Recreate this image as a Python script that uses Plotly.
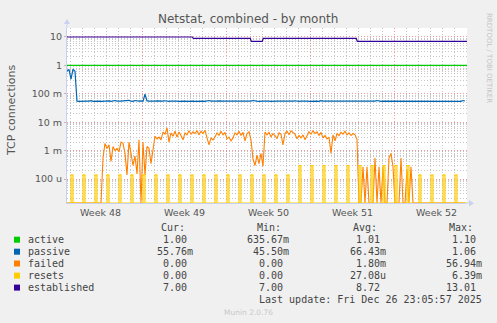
import plotly.graph_objects as go
import pandas as pd

# ---------------- data ----------------
T_START = pd.Timestamp("2025-11-23 17:24")
T_END = pd.Timestamp("2025-12-27 01:24")

week_starts = ["2025-11-30", "2025-12-07", "2025-12-14", "2025-12-21"]
week_label_pos = ["2025-11-26 12:00", "2025-12-03 12:00", "2025-12-10 12:00",
                  "2025-12-17 12:00", "2025-12-24 12:00"]
week_labels = ["Week 48", "Week 49", "Week 50", "Week 51", "Week 52"]

y_tick_vals = [1e-4, 1e-3, 1e-2, 1e-1, 1, 10]
y_tick_text = ["100 u", "1 m", "10 m", "100 m", "1", "10"]

# active: flat
active_times = ["2025-11-23 17:24", "2025-12-27 01:24"]
active_values = [1.0, 1.0]

# established: step series
established_times = ["2025-11-23 17:24", "2025-12-04 04:00", "2025-12-04 06:00",
                     "2025-12-09 00:00", "2025-12-09 02:00", "2025-12-10 00:00",
                     "2025-12-10 02:00", "2025-12-17 20:00", "2025-12-17 22:00",
                     "2025-12-27 01:24"]
established_values = [10, 10, 9, 9, 7, 7, 9, 9, 7, 7]

# passive: 4-hour samples
passive_values = [
    0.62, 0.72, 0.33, 0.74, 0.62, 0.055, 0.054, 0.055, 0.056, 0.054, 0.055, 0.055, 0.057, 0.054, 0.055, 0.056, 0.055, 0.054, 0.055, 0.055,
    0.055, 0.056, 0.054, 0.055, 0.058, 0.055, 0.054, 0.055, 0.056, 0.057, 0.055, 0.059, 0.055, 0.054, 0.058, 0.055, 0.055, 0.056, 0.054, 0.097,
    0.056, 0.055, 0.054, 0.055, 0.055, 0.056, 0.055, 0.054, 0.055, 0.057, 0.055, 0.054, 0.055, 0.056, 0.055, 0.055, 0.054, 0.055, 0.056, 0.055,
    0.054, 0.055, 0.057, 0.055, 0.054, 0.055, 0.056, 0.055, 0.055, 0.054, 0.055, 0.058, 0.055, 0.054, 0.055, 0.055, 0.056, 0.054, 0.055, 0.055,
    0.055, 0.054, 0.056, 0.055, 0.055, 0.057, 0.054, 0.055, 0.055, 0.056, 0.055, 0.054, 0.055, 0.058, 0.055, 0.055, 0.054, 0.056, 0.055, 0.055,
    0.056, 0.055, 0.054, 0.055, 0.057, 0.055, 0.055, 0.054, 0.056, 0.055, 0.055, 0.054, 0.055, 0.055, 0.057, 0.055, 0.054, 0.055, 0.056, 0.055,
    0.055, 0.054, 0.055, 0.056, 0.055, 0.055, 0.054, 0.057, 0.055, 0.055, 0.056, 0.054, 0.055, 0.055, 0.055, 0.054, 0.056, 0.055, 0.055, 0.054,
    0.055, 0.056, 0.055, 0.054, 0.055, 0.055, 0.057, 0.055, 0.054, 0.055, 0.056, 0.055, 0.055, 0.054, 0.055, 0.058, 0.055, 0.054, 0.055, 0.055,
    0.054, 0.055, 0.055, 0.056, 0.055, 0.054, 0.055, 0.055, 0.057, 0.055, 0.054, 0.055, 0.056, 0.055, 0.055, 0.054, 0.055, 0.055, 0.056, 0.055,
    0.055, 0.054, 0.055, 0.055, 0.056, 0.055, 0.054, 0.055, 0.055, 0.057, 0.055, 0.055, 0.054, 0.055, 0.056, 0.055, 0.055, 0.054, 0.058, 0.0558,
]

# failed: 4-hour samples, in milli-connections
failed_milli = [
    0, 0, 0, 0, 0, 0, 0, 0, 0, 0, 0, 0, 0, 0, 0, 0, 0, 0,
    0.55, 1.8, 1.2, 1.6, 0.42, 1.4, 1.0, 1.2, 0.9, 2.0, 1.8, 0.8,
    0.14, 2.0, 0.8, 0.3, 0.65, 0.15, 2.4, 0, 2.0, 0.14, 1.4, 1.2, 0.35, 0.9,
    3.2, 2.6, 3.0, 2.4, 4.5, 3.8, 6.3, 2.0, 4.2, 3.2, 4.8, 3.0, 4.5, 3.4, 2.4, 4.2,
    3.6, 5.0, 3.8, 4.6, 4.0, 5.0, 3.6, 4.8, 4.0, 5.2, 3.0, 1.6, 2.8, 2.4, 3.0, 4.2,
    3.5, 4.8, 3.6, 4.4, 2.6, 3.0, 2.2, 2.8, 4.2, 3.6, 4.8, 3.4, 4.4, 2.2, 4.0, 4.6,
    2.4, 0.5, 0.3, 0.7, 0.35, 0.8, 0.28,
    4.5, 3.6, 4.4, 3.0, 4.0, 3.4, 2.6, 4.2, 3.8, 1.6, 4.0, 4.8, 3.6, 5.0, 4.2, 3.8,
    2.6, 3.4, 2.8, 3.6, 2.4, 3.2, 4.6, 3.8, 5.0, 4.0, 4.6, 3.4, 4.4, 2.8, 3.4, 2.6,
    3.0, 0.8, 3.6, 2.2, 4.0, 3.4, 4.4, 3.8, 4.8, 3.6, 4.2, 3.4, 4.0, 3.6, 2.5,
    0, 0, 0.27, 0, 0.27, 0, 0, 0, 0.55, 0, 0.27, 0, 0.27, 0, 0, 0.55, 0.8, 0.27,
    0, 0, 0, 0.55, 0, 0, 0.22, 0, 0.27, 0,
    0, 0, 0, 0, 0, 0, 0, 0, 0, 0, 0, 0, 0, 0, 0, 0, 0, 0, 0, 0, 0, 0, 0, 0, 0, 0,
]

# resets: daily bursts (time, peak in micro)
reset_times = ["2025-11-24 01:00", "2025-11-25 01:00", "2025-11-26 01:00", "2025-11-27 01:00",
               "2025-11-28 01:00", "2025-11-29 01:00", "2025-11-30 01:00", "2025-12-01 01:00",
               "2025-12-02 01:00", "2025-12-03 01:00", "2025-12-04 01:00", "2025-12-05 01:00",
               "2025-12-06 01:00", "2025-12-07 01:00", "2025-12-08 01:00", "2025-12-09 01:00",
               "2025-12-10 01:00", "2025-12-11 01:00", "2025-12-12 01:00", "2025-12-13 01:00",
               "2025-12-14 01:00", "2025-12-15 01:00", "2025-12-16 01:00", "2025-12-17 01:00",
               "2025-12-18 01:00", "2025-12-19 01:00", "2025-12-20 01:00", "2025-12-21 01:00",
               "2025-12-22 01:00", "2025-12-23 01:00", "2025-12-24 01:00", "2025-12-25 01:00",
               "2025-12-26 01:00"]
reset_peaks_micro = [140, 140, 140, 140, 140, 140, 140, 140, 140, 140, 140, 140, 140, 140, 140, 140,
                     140, 140, 140, 300, 300, 300, 300, 300, 300, 300, 300, 300, 300, 140, 140, 140, 140]

legend_names = ["active", "passive", "failed", "resets", "established"]
legend_colors = ["#00CC00", "#0066B3", "#FF8000", "#FFCC00", "#330099"]
legend_cur = ["1.00\u00a0", "55.76m", "0.00\u00a0", "0.00\u00a0", "7.00\u00a0"]
legend_min = ["635.67m", "45.50m", "0.00\u00a0", "0.00\u00a0", "7.00\u00a0"]
legend_avg = ["1.01\u00a0", "66.43m", "1.80m", "27.08u", "8.72\u00a0"]
legend_max = ["1.10\u00a0", "1.06\u00a0", "56.94m", "6.39m", "13.01\u00a0"]

# ---------------- geometry ----------------
W, H = 497, 323
L, R, T, B = 67, 30, 28, 120
PW, PH = W - L - R, H - T - B
Y_LOG_MIN, Y_LOG_MAX = -4.843, 1.316
ZERO = 10 ** Y_LOG_MIN


def px(x):
    return (x - L) / PW


def py(y):
    return (H - B - y) / PH


def nz(v):
    return v if v > 0 else ZERO


fig = go.Figure()

fig.add_trace(go.Scatter(x=active_times, y=active_values, mode="lines",
                         line=dict(color=legend_colors[0], width=1.2), hoverinfo="skip"))

p_times = pd.date_range(T_START, periods=len(passive_values), freq="4h")
fig.add_trace(go.Scatter(x=p_times, y=passive_values, mode="lines",
                         line=dict(color=legend_colors[1], width=1.2), hoverinfo="skip"))

f_times = pd.date_range(T_START, periods=len(failed_milli), freq="4h")
fig.add_trace(go.Scatter(x=f_times, y=[nz(v * 1e-3) for v in failed_milli], mode="lines",
                         line=dict(color=legend_colors[2], width=1.1), hoverinfo="skip"))

r_grid = pd.date_range(T_START, T_END, freq="2h")
r_vals = [0.0] * len(r_grid)
for t, pk in zip(reset_times, reset_peaks_micro):
    idx = int(round((pd.Timestamp(t) - T_START) / pd.Timedelta("2h")))
    for j in range(idx, min(idx + 2, len(r_vals))):
        r_vals[j] = pk * 1e-6
fig.add_trace(go.Scatter(x=r_grid, y=[nz(v) for v in r_vals], mode="lines",
                         line=dict(color=legend_colors[3], width=1.1, shape="hv"),
                         fill="toself", fillcolor="rgba(255,204,0,0.3)", hoverinfo="skip"))

fig.add_trace(go.Scatter(x=established_times, y=established_values, mode="lines",
                         line=dict(color=legend_colors[4], width=1.2), hoverinfo="skip"))

MINOR_GRID = "rgba(175,175,175,0.7)"
MAJOR_GRID = "rgba(235,100,100,0.65)"
AXIS_COL = "#C9D1F0"
DOTS = "1px,2px"

minor_y = [k * 10 ** e for e in range(-5, 2) for k in range(2, 10)]

fig.update_xaxes(type="date", range=[T_START, T_END], showticklabels=False,
                 tickmode="linear", tick0=week_starts[0], dtick=7 * 86400000,
                 showgrid=True, gridcolor=MAJOR_GRID, griddash=DOTS, gridwidth=1,
                 ticks="", showline=True, linecolor=AXIS_COL, linewidth=1,
                 layer="below traces", zeroline=False,
                 minor=dict(tick0="2025-11-24", dtick=86400000, showgrid=True,
                            gridcolor=MINOR_GRID, griddash=DOTS, gridwidth=1))
fig.update_yaxes(type="log", range=[Y_LOG_MIN, Y_LOG_MAX], tickmode="array",
                 tickvals=y_tick_vals, ticktext=y_tick_text,
                 tickfont=dict(family="DejaVu Sans", size=9.5, color="#555"),
                 showgrid=True, gridcolor=MAJOR_GRID, griddash=DOTS, gridwidth=1,
                 ticks="outside", ticklen=2, tickcolor="#bbb",
                 showline=True, linecolor=AXIS_COL, linewidth=1, layer="below traces",
                 zeroline=False,
                 minor=dict(tickmode="array", tickvals=minor_y, showgrid=True,
                            gridcolor=MINOR_GRID, griddash=DOTS, gridwidth=1))

ann = []
# title
ann.append(dict(x=px(248), y=py(19), text="Netstat, combined - by month", showarrow=False,
                font=dict(family="DejaVu Sans", size=12, color="#555")))
# y title
ann.append(dict(x=px(12), y=py(110), text="TCP connections", showarrow=False, textangle=-90,
                font=dict(family="DejaVu Sans", size=11, color="#555")))
# right credit
ann.append(dict(x=px(489), y=py(58), text="RRDTOOL / TOBI OETIKER", showarrow=False, textangle=90,
                font=dict(family="DejaVu Sans", size=7, color="#c4c4c4")))
# week labels
for pos, lab in zip(week_label_pos, week_labels):
    ann.append(dict(x=pos, xref="x", y=py(212.7), yref="paper", text=lab, showarrow=False,
                    font=dict(family="DejaVu Sans", size=9.5, color="#555")))

MONO = dict(family="DejaVu Sans Mono", size=10, color="#444")
headers = ["Cur:", "Min:", "Avg:", "Max:"]
header_left = [159, 255, 351, 447]
for h, hx in zip(headers, header_left):
    ann.append(dict(x=px(hx), y=py(227.3), text=h, showarrow=False, xanchor="left", font=MONO))

row_y = [239.7, 251.7, 263.5, 275.6, 287.6]
col_right = [195, 291, 387.5, 484]
shapes = []
for i, name in enumerate(legend_names):
    yy = row_y[i]
    shapes.append(dict(type="rect", xref="paper", yref="paper", x0=px(14), x1=px(20),
                       y0=py(yy + 3), y1=py(yy - 3), fillcolor=legend_colors[i], line=dict(width=0)))
    ann.append(dict(x=px(25.5), y=py(yy), text=name, showarrow=False, xanchor="left", font=MONO))
    for col, cx in zip([legend_cur, legend_min, legend_avg, legend_max], col_right):
        ann.append(dict(x=px(cx), y=py(yy), text=col[i], showarrow=False, xanchor="right", font=MONO))

ann.append(dict(x=px(484), y=py(299.7), text="Last update: Fri Dec 26 23:05:57 2025",
                showarrow=False, xanchor="right", font=MONO))
ann.append(dict(x=px(248), y=py(312.3), text="Munin 2.0.76", showarrow=False,
                font=dict(family="DejaVu Sans", size=7.5, color="#c8c8c8")))

for a in ann:
    a.setdefault("xref", "paper")
    a.setdefault("yref", "paper")
    a.setdefault("xanchor", "center")
    a.setdefault("yanchor", "middle")

# axis extensions and arrows
shapes.append(dict(type="line", xref="paper", yref="paper", x0=0, x1=0, y0=1, y1=py(22),
                   line=dict(color=AXIS_COL, width=1)))
shapes.append(dict(type="path", xref="paper", yref="paper",
                   path=f"M {px(64)} {py(24)} L {px(70)} {py(24)} L {px(67)} {py(19)} Z",
                   fillcolor=AXIS_COL, line=dict(width=0)))
shapes.append(dict(type="line", xref="paper", yref="paper", x0=1, x1=px(470), y0=0, y1=0,
                   line=dict(color=AXIS_COL, width=1)))
shapes.append(dict(type="path", xref="paper", yref="paper",
                   path=f"M {px(469)} {py(200)} L {px(469)} {py(206.5)} L {px(474)} {py(203.3)} Z",
                   fillcolor=AXIS_COL, line=dict(width=0)))

fig.update_layout(width=W, height=H, margin=dict(l=L, r=R, t=T, b=B),
                  paper_bgcolor="#F0F0F0", plot_bgcolor="#FFFFFF", showlegend=False,
                  font=dict(family="DejaVu Sans", color="#555"),
                  annotations=ann, shapes=shapes)

fig.write_html("out.html")
